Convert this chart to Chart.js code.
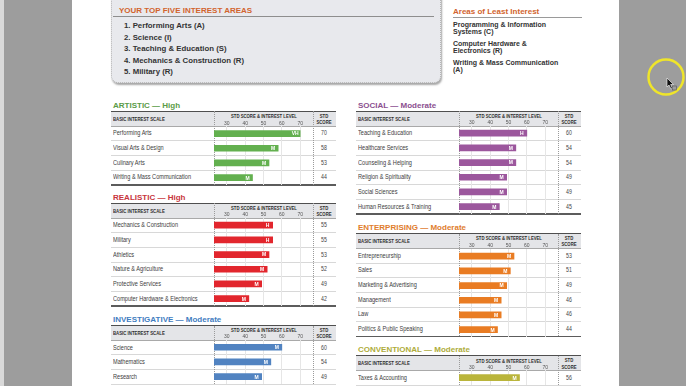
<!DOCTYPE html>
<html><head><meta charset="utf-8">
<script src="https://cdn.jsdelivr.net/npm/chart.js@4/dist/chart.umd.min.js"></script>
<style>
html,body{margin:0;padding:0;width:686px;height:386px;overflow:hidden;background:#fff;font-family:"Liberation Sans",Arial,sans-serif;}
#stage{position:relative;width:686px;height:386px;overflow:hidden;}
canvas{display:block;}
</style>
</head><body>
<div id="stage"></div>
<script>
// ---------- DATA ----------
const tickValues=[30,40,50,60,70];
const topFive=["1. Performing Arts (A)","2. Science (I)","3. Teaching & Education (S)","4. Mechanics & Construction (R)","5. Military (R)"];
const leastInterest=[["Programming & Information","Systems (C)"],["Computer Hardware &","Electronics (R)"],["Writing & Mass Communication","(A)"]];

const artisticScales=["Performing Arts","Visual Arts & Design","Culinary Arts","Writing & Mass Communication"];
const artisticScores=[70,58,53,44];
const artisticLevels=["VH","M","M","M"];

const realisticScales=["Mechanics & Construction","Military","Athletics","Nature & Agriculture","Protective Services","Computer Hardware & Electronics"];
const realisticScores=[55,55,53,52,49,42];
const realisticLevels=["H","H","M","M","M","M"];

const investigativeScales=["Science","Mathematics","Research"];
const investigativeScores=[60,54,49];
const investigativeLevels=["M","M","M"];

const socialScales=["Teaching & Education","Healthcare Services","Counseling & Helping","Religion & Spirituality","Social Sciences","Human Resources & Training"];
const socialScores=[60,54,54,49,49,45];
const socialLevels=["H","M","M","M","M","M"];

const enterprisingScales=["Entrepreneurship","Sales","Marketing & Advertising","Management","Law","Politics & Public Speaking"];
const enterprisingScores=[53,51,49,46,46,44];
const enterprisingLevels=["M","M","M","M","M","M"];

const conventionalScales=["Taxes & Accounting"];
const conventionalScores=[56];
const conventionalLevels=["M"];

// ---------- LAYOUT ----------
const stage=document.getElementById('stage');
const FF='"Liberation Sans",Arial,sans-serif';
function el(css,txt){const d=document.createElement('div');d.style.cssText='position:absolute;'+css;if(txt!=null)d.textContent=txt;stage.appendChild(d);return d;}
function rect(x,y,w,h,bg){return el(`left:${x}px;top:${y}px;width:${w}px;height:${h}px;background:${bg};`);}
function text(x,cy,str,font,color,o={}){
  const lh=10,sx=o.sx||1;
  let tf,org;
  if(o.align==='center'){tf=`translateX(-50%) scaleX(${sx})`;org='50% 50%';}
  else{tf=`scaleX(${sx})`;org='0 50%';}
  return el(`left:${x}px;top:${cy-lh/2}px;font:${font};line-height:${lh}px;height:${lh}px;white-space:nowrap;color:${color};transform:${tf};transform-origin:${org};`,str);
}

// side panels
rect(0,0,72,386,'#9d9d9d');
rect(0,0,4,386,'#d9d9d9');
rect(619,0,67,386,'#9d9d9d');
// cursor highlight
const svgNS='http://www.w3.org/2000/svg';
const svg=document.createElementNS(svgNS,'svg');
svg.setAttribute('width','686');svg.setAttribute('height','386');
svg.style.cssText='position:absolute;left:0;top:0;pointer-events:none;z-index:5;';
svg.innerHTML='<circle cx="666" cy="77" r="17.5" fill="none" stroke="#efe52a" stroke-width="2.5"/>'+
 '<path d="M667,78 L667,87 L669,85 L671,89 L672.5,88.3 L670.6,84.5 L673.5,84.5 Z" fill="#111" stroke="#fff" stroke-width="0.6"/>'+
 '<rect x="672.5" y="86" width="4" height="4" fill="none" stroke="#555" stroke-width="0.6"/>';
stage.appendChild(svg);

// top box
el('left:111px;top:-12px;width:328px;height:93px;border-radius:7px;background:#e8e9ed;border:1px dotted #b5b5b5;box-shadow:1px 2px 2px rgba(0,0,0,0.35);');
text(119,11.3,'YOUR TOP FIVE INTEREST AREAS','bold 8px '+FF,'#d2642e');
rect(113,16,321,1,'#8e8e8e');
topFive.forEach((t,i)=>text(124,26+i*11.6,t,'bold 7.8px '+FF,'#333'));

// least interest
text(453,12,'Areas of Least Interest','bold 8px '+FF,'#d2642e');
rect(453,16.6,129,1,'#9a9a9a');
const groupTop=[24.8,43.8,63.3];
leastInterest.forEach((g,i)=>g.forEach((l,j)=>text(453,groupTop[i]+j*7,l,'bold 7px '+FF,'#333')));

// sections
const W=225,BC=103,BW=99,SC=212.5,HDR=14.7,ROW=14.7;
const sections=[
 {title:'ARTISTIC — High',tc:'#5a9b47',bc:'#63b04f',x:111,top:111.3,closed:true,scales:artisticScales,scores:artisticScores,levels:artisticLevels},
 {title:'REALISTIC — High',tc:'#c8353c',bc:'#e2262d',x:111,top:203.3,closed:true,scales:realisticScales,scores:realisticScores,levels:realisticLevels},
 {title:'INVESTIGATIVE — Moderate',tc:'#3f7dbf',bc:'#5183c1',x:111,top:325.5,closed:false,scales:investigativeScales,scores:investigativeScores,levels:investigativeLevels},
 {title:'SOCIAL — Moderate',tc:'#8b4f90',bc:'#9c579d',x:356,top:111.3,closed:true,scales:socialScales,scores:socialScores,levels:socialLevels},
 {title:'ENTERPRISING — Moderate',tc:'#e07d2d',bc:'#e97c23',x:356,top:233.6,closed:true,scales:enterprisingScales,scores:enterprisingScores,levels:enterprisingLevels},
 {title:'CONVENTIONAL — Moderate',tc:'#aeac3a',bc:'#bab53b',x:356,top:355.7,closed:false,scales:conventionalScales,scores:conventionalScores,levels:conventionalLevels}
];

const levelPlugin={id:'lvl',afterDatasetsDraw(chart,args,opts){
  const ctx=chart.ctx,meta=chart.getDatasetMeta(0);
  ctx.save();ctx.fillStyle='#fff';ctx.font='bold 5px '+FF;ctx.textAlign='center';ctx.textBaseline='middle';
  meta.data.forEach((bar,i)=>ctx.fillText(opts.levels[i],bar.x-5,bar.y+0.5));
  ctx.restore();
}};

sections.forEach(s=>{
  const n=s.scales.length,x=s.x,t=s.top,bottom=t+HDR+n*ROW;
  text(x+2,t-5.8,s.title,'bold 8px '+FF,s.tc);
  rect(x,t,W,HDR,'#e4e5e8');
  rect(x,t-0.75,W,1.5,'#4f4f4f');
  rect(x,t+HDR-0.5,W,1,'#a9a9a9');
  for(let i=1;i<n;i++)rect(x,t+HDR+i*ROW-0.5,W,1,'#d8d8d8');
  if(s.closed)rect(x,bottom-0.75,W,1.5,'#5c5c5c');else rect(x,bottom-0.5,W,1,'#d8d8d8');
  el(`left:${x+BC}px;top:${t}px;height:${bottom-t}px;width:0;border-left:1px dotted #9a9a9a;`);
  el(`left:${x+BC+BW}px;top:${t}px;height:${bottom-t}px;width:0;border-left:1px dotted #9a9a9a;`);
  text(x+2.3,t+7.3,'BASIC INTEREST SCALE','bold 5.4px '+FF,'#2e2e2e',{sx:.8});
  text(x+BC+BW/2,t+4.8,'STD SCORE & INTEREST LEVEL','bold 5.3px '+FF,'#2e2e2e',{align:'center',sx:.8});
  text(x+SC,t+4.6,'STD','bold 5.3px '+FF,'#2e2e2e',{align:'center',sx:.8});
  text(x+SC,t+10.8,'SCORE','bold 5.3px '+FF,'#2e2e2e',{align:'center',sx:.8});
  s.scales.forEach((lab,i)=>{
    const cy=t+HDR+(i+0.5)*ROW;
    text(x+2.3,cy,lab,'7px '+FF,'#3c3c3c',{sx:.8});
    text(x+SC,cy,String(s.scores[i]),'6.5px '+FF,'#444',{align:'center',sx:.8});
  });
  const cTop=Math.round(t),cH=Math.round(bottom)-cTop,hdrPx=cH-n*ROW;
  const cv=document.createElement('canvas');
  cv.width=BW;cv.height=cH;
  cv.style.cssText=`position:absolute;left:${x+BC}px;top:${cTop}px;width:${BW}px;height:${cH}px;z-index:2;`;
  stage.appendChild(cv);
  new Chart(cv,{
    type:'bar',
    data:{labels:s.scales,datasets:[{data:s.scores,backgroundColor:s.bc,barThickness:6,borderWidth:0}]},
    options:{
      indexAxis:'y',responsive:false,animation:false,devicePixelRatio:1,
      layout:{padding:0},
      scales:{
        x:{position:'top',min:23,max:77,
           afterBuildTicks:sc=>{sc.ticks=tickValues.map(v=>({value:v}));},
           afterFit:sc=>{sc.height=hdrPx;},
           grid:{color:'#e6e6e6',drawTicks:false,lineWidth:1},
           border:{display:false},
           ticks:{padding:0,autoSkip:false,maxRotation:0,color:'#555',font:{size:5,family:FF}}},
        y:{display:false}
      },
      plugins:{legend:{display:false},tooltip:{enabled:false},lvl:{levels:s.levels}}
    },
    plugins:[levelPlugin]
  });
});
</script>
</body></html>
